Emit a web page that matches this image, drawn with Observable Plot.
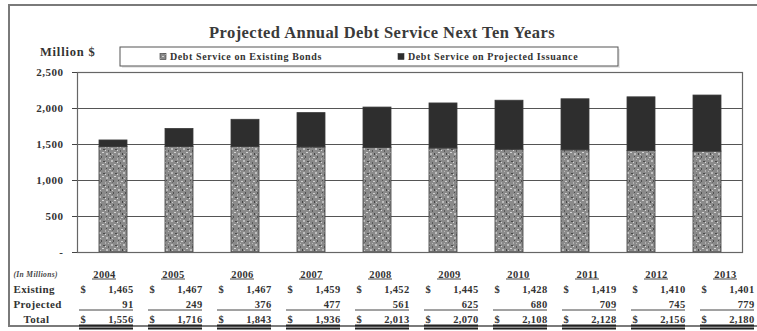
<!DOCTYPE html>
<html>
<head>
<meta charset="utf-8">
<script src="https://cdn.jsdelivr.net/npm/d3@7"></script>
<script src="https://cdn.jsdelivr.net/npm/@observablehq/plot@0.6"></script>
<style>
  body { margin: 0; background: #fff; }
  #wrap { position: relative; width: 757px; height: 331px; overflow: hidden; background: #fff; }
  #border { position: absolute; left: 8px; top: 4px; width: 770px; height: 323px; border: 2px solid #7a7a7a; box-sizing: border-box; }
  #chart, #table { position: absolute; left: 0; }
  #chart { top: 0; }
  #table { top: 262px; }
  svg text { font-family: "Liberation Serif", "Times New Roman", serif; }
  #table svg text { letter-spacing: 0.35px; }
  #chart svg g[aria-label="y-axis tick label"] text { letter-spacing: 0.5px; }
</style>
</head>
<body>
<svg width="0" height="0" style="position:absolute">
  <defs>
    <pattern id="speckle" width="12" height="12" patternUnits="userSpaceOnUse">
      <rect width="12" height="12" fill="#8a8a8a"/>
      <rect x="1" y="1" width="2" height="1" fill="#cfcfcf"/>
      <rect x="5" y="0" width="1" height="2" fill="#505050"/>
      <rect x="3" y="4" width="2" height="2" fill="#c0c0c0"/>
      <rect x="7" y="5" width="2" height="1" fill="#4a4a4a"/>
      <rect x="0" y="6" width="1" height="2" fill="#5a5a5a"/>
      <rect x="6" y="8" width="2" height="1" fill="#d4d4d4"/>
      <rect x="2" y="9" width="1" height="2" fill="#454545"/>
      <rect x="9" y="2" width="1" height="2" fill="#b5b5b5"/>
      <rect x="4" y="2" width="1" height="1" fill="#666"/>
      <rect x="10" y="9" width="2" height="2" fill="#bdbdbd"/>
      <rect x="9" y="6" width="1" height="1" fill="#dadada"/>
      <rect x="10" y="0" width="1" height="1" fill="#4f4f4f"/>
      <rect x="4" y="10" width="1" height="1" fill="#c9c9c9"/>
      <rect x="0" y="3" width="1" height="1" fill="#b8b8b8"/>
    </pattern>
  </defs>
</svg>
<div id="wrap">
  <div id="border"></div>
  <div id="chart"></div>
  <div id="table"></div>
</div>
<script>
const years = ["2004","2005","2006","2007","2008","2009","2010","2011","2012","2013"];
const existing = [1465, 1467, 1467, 1459, 1452, 1445, 1428, 1419, 1410, 1401];
const projected = [91, 249, 376, 477, 561, 625, 680, 709, 745, 779];
const totals = [1556, 1716, 1843, 1936, 2013, 2070, 2108, 2128, 2156, 2180];
const yTicks = [0, 500, 1000, 1500, 2000, 2500];
const seriesNames = ["Debt Service on Existing Bonds", "Debt Service on Projected Issuance"];
const title = "Projected Annual Debt Service Next Ten Years";
const unitLabel = "Million $";
const rowLabels = ["(In Millions)", "Existing", "Projected", "Total"];

const long = [];
years.forEach((y, i) => {
  long.push({year: y, series: seriesNames[0], value: existing[i]});
  long.push({year: y, series: seriesNames[1], value: projected[i]});
});
const fmt = d3.format(",");
const serif = "Liberation Serif, Times New Roman, serif";

const chart = Plot.plot({
  width: 757,
  height: 262,
  marginTop: 72,
  marginBottom: 10,
  marginLeft: 77,
  marginRight: 15,
  style: {fontFamily: serif, fontSize: "11px", fontWeight: "bold", color: "#333", background: "transparent"},
  x: {domain: years, paddingInner: 0.58, paddingOuter: 0.29, axis: null},
  y: {domain: [0, 2500]},
  color: {domain: seriesNames, range: ["url(#speckle)", "#2e2e2e"]},
  marks: [
    Plot.ruleY(yTicks, {stroke: "#555", strokeWidth: 1.2}),
    Plot.barY(long, {x: "year", y: "value", fill: "series", stroke: "#3a3a3a", strokeWidth: 0.8}),
    Plot.frame({stroke: "#666", strokeWidth: 1.2}),
    Plot.axisY({ticks: yTicks, tickSize: 5, tickPadding: 9, stroke: "#444", label: null,
      tickFormat: d => d === 0 ? "-" : fmt(d), fill: "#333"})
  ]
});
document.getElementById("chart").appendChild(chart);

// title, unit label and legend
const svg = d3.select(chart);
svg.append("text").attr("x", 382).attr("y", 38).attr("text-anchor", "middle")
  .attr("font-size", 16.5).attr("letter-spacing", 0.45).attr("font-weight", "bold").attr("fill", "#3a3a3a").text(title);
svg.append("text").attr("x", 40).attr("y", 56).attr("text-anchor", "start").attr("font-size", 12.5)
  .attr("letter-spacing", 0.8).attr("font-weight", "bold").attr("fill", "#333").text(unitLabel);
svg.append("rect").attr("x", 122).attr("y", 49).attr("width", 498).attr("height", 19)
  .attr("fill", "#e8e8e8");
svg.append("rect").attr("x", 120).attr("y", 47).attr("width", 498).attr("height", 19)
  .attr("fill", "#fff").attr("stroke", "#555").attr("stroke-width", 1);
const leg = [{x: 160, fill: "url(#speckle)", label: seriesNames[0]}, {x: 398, fill: "#2e2e2e", label: seriesNames[1]}];
leg.forEach(l => {
  svg.append("rect").attr("x", l.x).attr("y", 53.5).attr("width", 6).attr("height", 6)
    .attr("fill", l.fill).attr("stroke", "#333").attr("stroke-width", 0.6);
  svg.append("text").attr("x", l.x + 10).attr("y", 60).attr("text-anchor", "start").attr("font-size", 10)
    .attr("letter-spacing", 0.6).attr("font-weight", "bold").attr("fill", "#333").text(l.label);
});

// data table below the chart
const rowKeys = ["hdr", "Existing", "Projected", "Total"];
const rows = years.map((y, i) => ({year: y, existing: existing[i], projected: projected[i], total: totals[i]}));
const tText = {fontSize: 10.5, fontWeight: "bold", fill: "#333"};
const lText = {fontSize: 11, fontWeight: "bold", fill: "#333"};
const table = Plot.plot({
  width: 757,
  height: 69,
  marginTop: 11,
  marginBottom: 12,
  marginLeft: 79,
  marginRight: 2,
  style: {fontFamily: serif, fontWeight: "bold", color: "#333", background: "transparent"},
  x: {domain: years, paddingInner: 0.22, paddingOuter: 0, align: 0, axis: null},
  y: {type: "point", domain: rowKeys, padding: 0, axis: null},
  marks: [
    Plot.text(rowLabels.slice(0, 1), {y: () => "hdr", frameAnchor: "left", dx: -66, textAnchor: "start", fontSize: 7.5, fontStyle: "italic", fill: "#444"}),
    Plot.text(rowLabels.slice(1, 3), {y: d => d, frameAnchor: "left", dx: -66, textAnchor: "start", ...lText}),
    Plot.text(rowLabels.slice(3), {y: () => "Total", frameAnchor: "left", dx: -56, textAnchor: "start", ...lText}),
    Plot.text(rows, {x: "year", y: () => "hdr", text: "year", dx: -2, ...tText}),
    Plot.tickY(rows, {x: "year", y: () => "hdr", dy: 4.5, insetLeft: 13, insetRight: 17, stroke: "#444", strokeWidth: 1}),
    Plot.text(rows, {x: "year", y: () => "Existing", text: () => "$", dx: -26, textAnchor: "start", ...tText}),
    Plot.text(rows, {x: "year", y: () => "Existing", text: d => fmt(d.existing), dx: 27, textAnchor: "end", ...tText}),
    Plot.text(rows, {x: "year", y: () => "Projected", text: d => fmt(d.projected), dx: 27, textAnchor: "end", ...tText}),
    Plot.tickY(rows, {x: "year", y: () => "Projected", dy: 5.5, stroke: "#444", strokeWidth: 1}),
    Plot.text(rows, {x: "year", y: () => "Total", text: () => "$", dx: -26, textAnchor: "start", ...tText}),
    Plot.text(rows, {x: "year", y: () => "Total", text: d => fmt(d.total), dx: 27, textAnchor: "end", ...tText}),
    Plot.tickY(rows, {x: "year", y: () => "Total", dy: 6, stroke: "#222", strokeWidth: 2}),
    Plot.tickY(rows, {x: "year", y: () => "Total", dy: 9, stroke: "#222", strokeWidth: 2})
  ]
});
document.getElementById("table").appendChild(table);
</script>
</body>
</html>
